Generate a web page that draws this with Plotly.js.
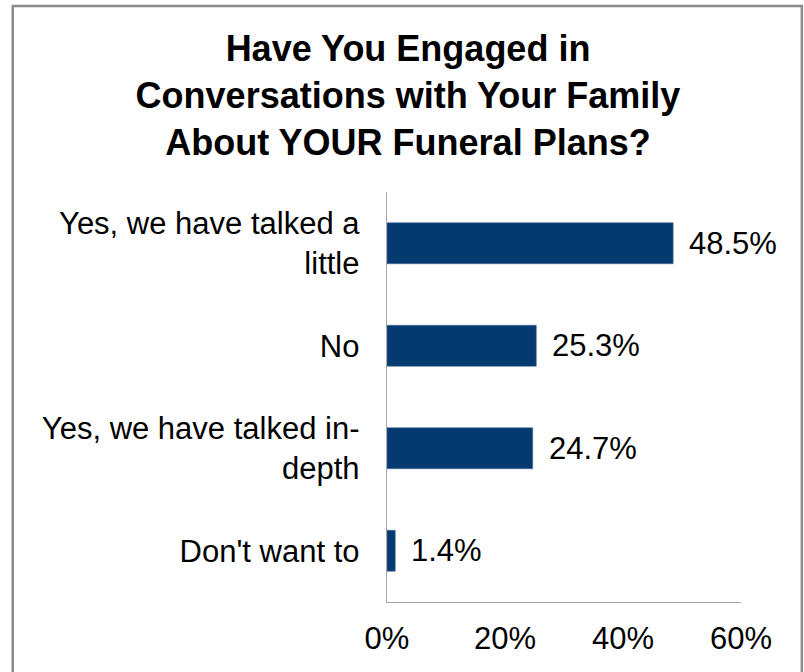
<!DOCTYPE html>
<html>
<head>
<meta charset="utf-8">
<script src="https://cdn.plot.ly/plotly-3.0.1.min.js"></script>
<style>html,body{margin:0;padding:0;background:#fff;}#chart{width:804px;height:672px;}</style>
</head>
<body>
<div id="chart"></div>
<script>
var categories = ["Yes, we have talked a<br>little", "No", "Yes, we have talked in-<br>depth", "Don't want to"];
var values = [48.5, 25.3, 24.7, 1.4];
var valueLabels = ["48.5%", "25.3%", "24.7%", "1.4%"];
var tickValues = [0, 20, 40, 60];
var tickLabels = ["0%", "20%", "40%", "60%"];
var titleText = "Have You Engaged in<br>Conversations with Your Family<br>About YOUR Funeral Plans?";

var W = 804, H = 672;
var mL = 386.5, mR = 62.5, mT = 192, mB = 70.3;
var pw = W - mL - mR, ph = H - mT - mB;
function px(x){ return (x - mL) / pw; }
function py(y){ return (H - mB - y) / ph; }

var font = "Liberation Sans, Arial, sans-serif";

var trace = {
  type: "bar",
  orientation: "h",
  y: categories,
  x: values,
  marker: {color: "#033a6f", line: {color: "#4a6f99", width: 0.6}},
  hoverinfo: "skip"
};

var annotations = categories.map(function(c, i){
  return {x: values[i], y: c, xref: "x", yref: "y", text: valueLabels[i],
    showarrow: false, xanchor: "left", yanchor: "middle", xshift: 14,
    font: {family: font, size: 31, color: "#000"}};
});

var layout = {
  width: W, height: H,
  margin: {l: mL, r: mR, t: mT, b: mB, pad: 0},
  paper_bgcolor: "#fff", plot_bgcolor: "#fff",
  showlegend: false,
  bargap: 0.6,
  title: {text: titleText, x: 408/W, xref: "container", xanchor: "center",
    y: 1 - 61/H, yref: "container", yanchor: "top",
    font: {family: font, size: 36, color: "#000", weight: "bold"}},
  xaxis: {range: [0, 60], tickvals: tickValues, ticktext: tickLabels,
    showgrid: false, zeroline: false, showline: true, linecolor: "#a6a6a6", linewidth: 1.3,
    ticks: "", ticklabelstandoff: 8,
    tickfont: {family: font, size: 31, color: "#000"}, fixedrange: true},
  yaxis: {autorange: "reversed", showgrid: false, zeroline: false, showline: true,
    linecolor: "#a6a6a6", linewidth: 1.3, ticks: "", ticklabelstandoff: 20,
    tickfont: {family: font, size: 31, color: "#000"}, fixedrange: true},
  annotations: annotations,
  shapes: [{type: "rect", xref: "paper", yref: "paper",
    x0: px(11.2), x1: px(802.5), y0: py(690), y1: py(6.2),
    line: {color: "#8c8c8c", width: 2.5}, fillcolor: "rgba(0,0,0,0)", layer: "below"}]
};

Plotly.newPlot("chart", [trace], layout, {displayModeBar: false, staticPlot: true});
</script>
</body>
</html>
